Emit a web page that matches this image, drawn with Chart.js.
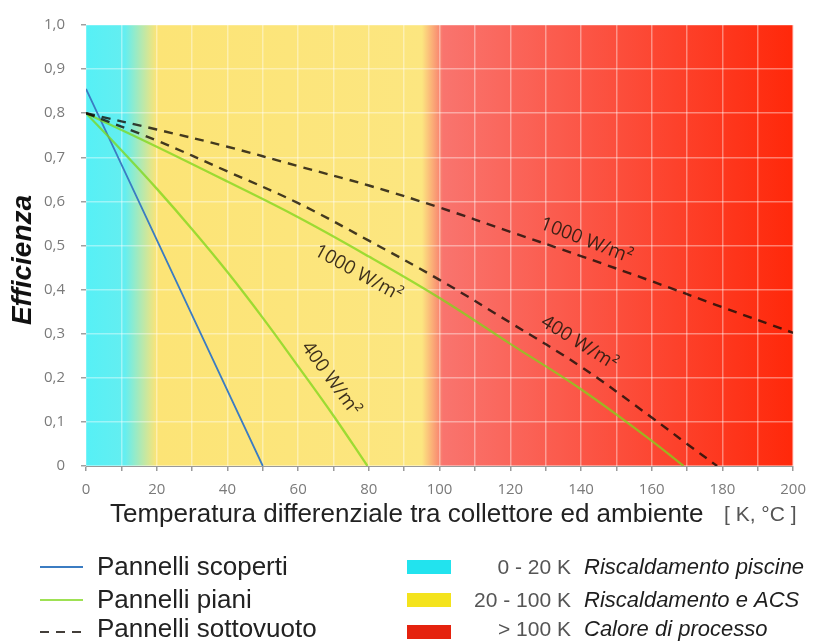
<!DOCTYPE html>
<html>
<head>
<meta charset="utf-8">
<script src="https://cdn.jsdelivr.net/npm/chart.js@4.4.1/dist/chart.umd.min.js"></script>
<style>
  html, body { margin: 0; padding: 0; background: #fff; }
  canvas { display: block; }
</style>
</head>
<body>
<canvas id="chart" width="816" height="643" style="width:816px;height:643px"></canvas>
<script>
// Collector efficiency curves: efficiency vs. collector–ambient temperature difference [K]
const tempScoperti = [0, 50];
const effScoperti  = [0.855, 0];

const tempPiani1000 = [0, 20, 40, 60, 80, 100, 120, 140, 160, 169];
const effPiani1000  = [0.80, 0.724, 0.645, 0.564, 0.475, 0.381, 0.277, 0.174, 0.057, 0];

const tempPiani400 = [0, 10, 20, 30, 40, 50, 60, 70, 79.6];
const effPiani400  = [0.80, 0.716, 0.629, 0.537, 0.440, 0.336, 0.226, 0.114, 0];

const tempVuoto1000 = [0, 20, 40, 60, 80, 100, 120, 140, 160, 180, 200];
const effVuoto1000  = [0.80, 0.763, 0.724, 0.680, 0.636, 0.586, 0.531, 0.476, 0.419, 0.360, 0.302];

const tempVuoto400 = [0, 20, 40, 60, 80, 100, 120, 140, 160, 170, 178.5];
const effVuoto400  = [0.80, 0.738, 0.668, 0.596, 0.511, 0.422, 0.325, 0.225, 0.110, 0.050, 0];

const seriesNames = ['Pannelli scoperti', 'Pannelli piani', 'Pannelli sottovuoto'];
const zoneBounds  = [0, 20, 100, 200];
const zoneRanges  = ['0 - 20 K', '20 - 100 K', '> 100 K'];
const zoneNames   = ['Riscaldamento piscine', 'Riscaldamento e ACS', 'Calore di processo'];
const curveTexts  = ['1000 W/m²', '400 W/m²', '1000 W/m²', '400 W/m²'];

const xTitle = 'Temperatura differenziale tra collettore ed ambiente';
const xUnit  = '[ K, °C ]';
const yTitle = 'Efficienza';

// ---- styles ----
const BLUE   = '#3b7cc2';
const GREEN  = 'rgba(125,215,25,0.75)';
const DASHED = 'rgba(20,14,8,0.8)';
const DASH   = [9, 7];
const ZONE_SWATCH = ['#22e3ee', '#f4e31c', '#e5220e'];

// curve label placement (data coordinates of the label centre, rotation in degrees)
const curveLabelPlacement = [
  { x: 77.0,  y: 0.437, angle: 29 },
  { x: 69.2,  y: 0.198, angle: 54 },
  { x: 141.5, y: 0.511, angle: 21 },
  { x: 139.5, y: 0.279, angle: 32 }
];

const pts = (xs, ys) => xs.map((x, i) => ({ x, y: ys[i] }));

// coloured temperature bands behind the plot
const zonePlugin = {
  id: 'zones',
  beforeDraw(chart) {
    const { ctx, chartArea: a, scales: { x } } = chart;
    const f = v => (x.getPixelForValue(v) - a.left) / (a.right - a.left);
    const g = ctx.createLinearGradient(a.left, 0, a.right, 0);
    g.addColorStop(0, 'rgb(86,240,246)');
    g.addColorStop(f(zoneBounds[1] - 9), 'rgb(100,238,240)');
    g.addColorStop(f(zoneBounds[1]), 'rgb(252,228,118)');
    g.addColorStop(f(zoneBounds[2] - 5), 'rgb(252,230,128)');
    g.addColorStop(f(zoneBounds[2] + 1), 'rgb(249,116,110)');
    g.addColorStop(1, 'rgb(255,40,10)');
    ctx.save();
    ctx.fillStyle = g;
    ctx.fillRect(a.left, a.top, a.right - a.left, a.bottom - a.top);
    ctx.restore();
  }
};

// irradiance labels along the curves
const curveLabelPlugin = {
  id: 'curveLabels',
  afterDatasetsDraw(chart) {
    const { ctx, scales: { x, y } } = chart;
    ctx.save();
    ctx.font = '19px "Open Sans"';
    ctx.fillStyle = 'rgba(38,26,16,0.9)';
    ctx.textAlign = 'center';
    ctx.textBaseline = 'middle';
    curveLabelPlacement.forEach((p, i) => {
      ctx.save();
      ctx.translate(x.getPixelForValue(p.x), y.getPixelForValue(p.y));
      ctx.rotate(p.angle * Math.PI / 180);
      ctx.fillText(curveTexts[i], 0, 0);
      ctx.restore();
    });
    ctx.restore();
  }
};

// axis titles and the two-column legend
const textPlugin = {
  id: 'texts',
  afterDraw(chart) {
    const { ctx } = chart;
    ctx.save();

    ctx.save();
    ctx.translate(23, 260);
    ctx.rotate(-Math.PI / 2);
    ctx.font = 'italic bold 28px "Liberation Sans"';
    ctx.fillStyle = '#111';
    ctx.textAlign = 'center';
    ctx.textBaseline = 'middle';
    ctx.fillText(yTitle, 0, 0);
    ctx.restore();

    ctx.textBaseline = 'alphabetic';
    ctx.textAlign = 'left';
    ctx.font = '26px "Liberation Sans"';
    ctx.fillStyle = '#222';
    ctx.fillText(xTitle, 110, 522);
    ctx.font = '21px "Liberation Sans"';
    ctx.fillStyle = '#555';
    ctx.fillText(xUnit, 724, 521);

    // series legend
    const rows = [567, 600, 632];
    const base = [575, 608, 637];
    const styles = [
      { color: BLUE, dash: [], width: 1.8 },
      { color: GREEN, dash: [], width: 2.2 },
      { color: DASHED, dash: [9, 7], width: 2.2 }
    ];
    seriesNames.forEach((name, i) => {
      ctx.save();
      ctx.strokeStyle = styles[i].color;
      ctx.lineWidth = styles[i].width;
      ctx.setLineDash(styles[i].dash);
      ctx.beginPath();
      ctx.moveTo(40, rows[i]);
      ctx.lineTo(83, rows[i]);
      ctx.stroke();
      ctx.restore();
      ctx.font = '26px "Liberation Sans"';
      ctx.fillStyle = '#222';
      ctx.textAlign = 'left';
      ctx.fillText(name, 97, base[i]);
    });

    // temperature band legend
    zoneNames.forEach((name, i) => {
      ctx.fillStyle = ZONE_SWATCH[i];
      ctx.fillRect(407, rows[i] - 7, 44, 14);
      ctx.font = '21px "Liberation Sans"';
      ctx.fillStyle = '#555';
      ctx.textAlign = 'right';
      ctx.fillText(zoneRanges[i], 571, base[i] - 1);
      ctx.font = 'italic 22px "Liberation Sans"';
      ctx.fillStyle = '#1e1e1e';
      ctx.textAlign = 'left';
      ctx.fillText(name, 584, base[i] - 1);
    });

    ctx.restore();
  }
};

new Chart(document.getElementById('chart'), {
  type: 'line',
  data: {
    datasets: [
      { label: seriesNames[2] + ' 1000', data: pts(tempVuoto1000, effVuoto1000),
        borderColor: DASHED, borderWidth: 2.4, borderDash: DASH },
      { label: seriesNames[2] + ' 400', data: pts(tempVuoto400, effVuoto400),
        borderColor: DASHED, borderWidth: 2.4, borderDash: DASH },
      { label: seriesNames[1] + ' 1000', data: pts(tempPiani1000, effPiani1000),
        borderColor: GREEN, borderWidth: 2.3 },
      { label: seriesNames[1] + ' 400', data: pts(tempPiani400, effPiani400),
        borderColor: GREEN, borderWidth: 2.3 },
      { label: seriesNames[0], data: pts(tempScoperti, effScoperti),
        borderColor: BLUE, borderWidth: 1.8 }
    ]
  },
  options: {
    responsive: false,
    animation: false,
    events: [],
    layout: { padding: { top: 22, right: 19, left: 0, bottom: 0 } },
    elements: { point: { radius: 0 }, line: { tension: 0.4, fill: false } },
    plugins: { legend: { display: false }, tooltip: { enabled: false } },
    scales: {
      x: {
        type: 'linear', min: zoneBounds[0], max: zoneBounds[3],
        afterFit: s => { s.height = 177; },
        border: { display: true, color: '#9a9a9a', width: 1 },
        grid: { color: 'rgba(255,255,255,0.4)', lineWidth: 1.5, tickColor: '#9a9a9a', tickLength: 5 },
        ticks: {
          stepSize: 10, autoSkip: false, maxRotation: 0, padding: 10,
          color: '#7a7a7a', font: { family: '"Open Sans"', size: 15 },
          callback: v => (v % 20 === 0 ? String(v) : '')
        }
      },
      y: {
        min: 0, max: 1,
        afterFit: s => { s.width = 86; },
        border: { display: false },
        grid: { color: 'rgba(255,255,255,0.4)', lineWidth: 1.5, tickColor: '#a0a0a0', tickLength: 5 },
        ticks: {
          stepSize: 0.1, padding: 16,
          color: '#7a7a7a', font: { family: '"Open Sans"', size: 15 },
          callback: v => (v === 0 ? '0' : v.toFixed(1).replace('.', ','))
        }
      }
    }
  },
  plugins: [zonePlugin, curveLabelPlugin, textPlugin]
});
</script>
</body>
</html>
